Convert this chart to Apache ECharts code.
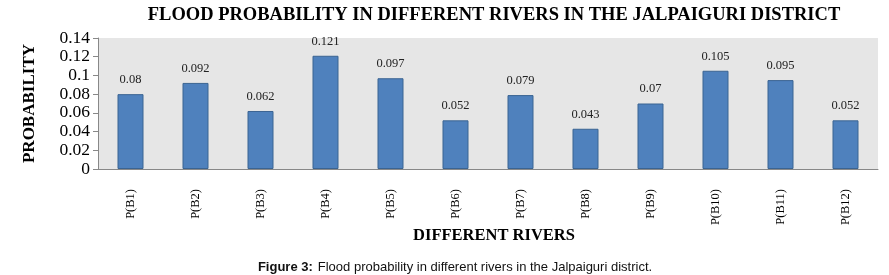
<!DOCTYPE html>
<html>
<head>
<meta charset="utf-8">
<script src="https://cdn.jsdelivr.net/npm/echarts@6/dist/echarts.min.js"></script>
<style>
  html, body { margin: 0; padding: 0; background: #fff; }
  #show_picture { width: 889px; height: 275px; }
</style>
</head>
<body>
<div id="show_picture"></div>
<script>
// rivers and their flood probability
const rivers = ['P(B1)', 'P(B2)', 'P(B3)', 'P(B4)', 'P(B5)', 'P(B6)', 'P(B7)', 'P(B8)', 'P(B9)', 'P(B10)', 'P(B11)', 'P(B12)'];
const probability = [0.08, 0.092, 0.062, 0.121, 0.097, 0.052, 0.079, 0.043, 0.07, 0.105, 0.095, 0.052];
const yTicks = [0, 0.02, 0.04, 0.06, 0.08, 0.1, 0.12, 0.14];

let myChart = echarts.init(document.getElementById('show_picture'));
const serif = 'Liberation Serif';
const sans = 'Liberation Sans';

let option = {
    animation: false,
    backgroundColor: '#fff',
    title: [
        {
            text: 'FLOOD PROBABILITY IN DIFFERENT RIVERS IN THE JALPAIGURI DISTRICT',
            left: 489, top: 1, textAlign: 'center',
            textStyle: { fontFamily: serif, fontWeight: 'bold', fontSize: 18.5, color: '#000' }
        },
        {
            text: 'DIFFERENT RIVERS',
            left: 489, top: 222, textAlign: 'center',
            textStyle: { fontFamily: serif, fontWeight: 'bold', fontSize: 16.5, color: '#000' }
        },
        {
            text: '{b|Figure 3:} {n|Flood probability in different rivers in the Jalpaiguri district.}',
            left: 450, top: 253, textAlign: 'center',
            textStyle: {
                fontWeight: 'normal',
                rich: {
                    b: { fontFamily: sans, fontWeight: 'bold', fontSize: 13, color: '#111' },
                    n: { fontFamily: sans, fontWeight: 'normal', fontSize: 13, color: '#111' }
                }
            }
        }
    ],
    grid: {
        left: 98, right: 11, top: 38, bottom: 106,
        show: true, backgroundColor: '#E6E6E6', borderWidth: 0
    },
    xAxis: {
        type: 'category',
        data: rivers,
        axisLine: { lineStyle: { color: '#888', width: 1 } },
        axisTick: { show: false },
        axisLabel: { rotate: 90, interval: 0, margin: 20, fontFamily: serif, fontSize: 12.5, color: '#000' }
    },
    yAxis: {
        type: 'value',
        min: 0, max: 0.14, interval: 0.02,
        name: 'PROBABILITY',
        nameLocation: 'middle',
        nameGap: 60,
        nameTextStyle: { fontFamily: serif, fontWeight: 'bold', fontSize: 17, color: '#000' },
        axisLine: { show: true, lineStyle: { color: '#888', width: 1 } },
        axisTick: { show: true, length: 5, lineStyle: { color: '#888' } },
        splitLine: { show: false },
        axisLabel: {
            margin: 8, fontFamily: serif, fontSize: 17.5, color: '#000',
            showMinLabel: true, showMaxLabel: true,
            formatter: v => String(yTicks.find(t => Math.abs(t - v) < 1e-9) ?? v)
        }
    },
    series: [
        {
            type: 'bar',
            data: probability,
            barWidth: 26,
            itemStyle: { color: '#4F81BD', borderColor: '#3B6492', borderWidth: 1 },
            label: {
                show: true, position: 'top', distance: 8,
                fontFamily: serif, fontSize: 12.5, color: '#222'
            }
        }
    ]
};

option && myChart.setOption(option);
</script>
</body>
</html>
